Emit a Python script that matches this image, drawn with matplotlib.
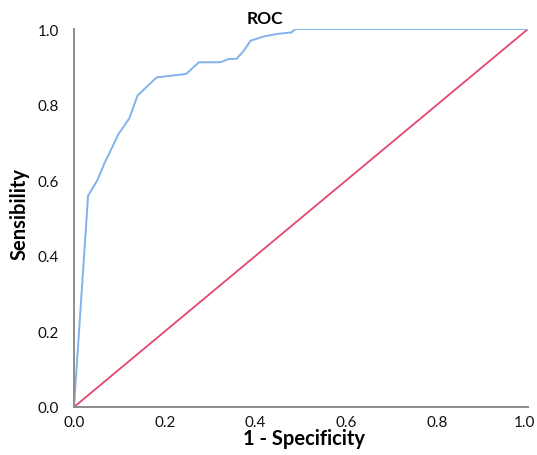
import matplotlib
matplotlib.use('Agg')
import matplotlib.pyplot as plt
import matplotlib.transforms as mtransforms

# ROC curve
fpr = [0.0, 0.031, 0.051, 0.068, 0.098, 0.122, 0.140, 0.182, 0.247, 0.275,
       0.322, 0.342, 0.358, 0.373, 0.389, 0.417, 0.448, 0.479, 0.487, 1.0]
tpr = [0.0, 0.559, 0.599, 0.647, 0.722, 0.764, 0.824, 0.872, 0.881, 0.912,
       0.912, 0.921, 0.921, 0.941, 0.969, 0.980, 0.987, 0.991, 1.0, 1.0]
ref_x = [0.0, 1.0]
ref_y = [0.0, 1.0]
ticks = [0.0, 0.2, 0.4, 0.6, 0.8, 1.0]

plt.rcParams['font.family'] = ['Lato', 'DejaVu Sans']

fig = plt.figure(figsize=(5.37, 4.56), dpi=100)
ax = fig.add_axes([74/537, 1-408/456, (528-74)/537, (408-30)/456])

ax.plot(ref_x, ref_y, color='#e8456a', lw=1.3)
ax.plot(fpr, tpr, color='#82b2ee', lw=1.4)

ax.set_xlim(0, 1)
ax.set_ylim(0, 1)
ax.set_xticks(ticks)
ax.set_yticks(ticks)
ax.set_xticklabels(['%.1f' % t for t in ticks])
ax.set_yticklabels(['%.1f' % t for t in ticks])
ax.tick_params(length=0, labelsize=11, colors='#111111')
ax.tick_params(axis='x', pad=6)
ax.tick_params(axis='y', pad=11)

# last x label sits at the figure edge, nudge it in a bit
last = ax.get_xticklabels()[-1]
last.set_transform(last.get_transform() + mtransforms.ScaledTranslation(-4/100, 0, fig.dpi_scale_trans))

for s in ['top', 'right']:
    ax.spines[s].set_visible(False)
for s in ['left', 'bottom']:
    ax.spines[s].set_color('#8c8c8c')
    ax.spines[s].set_linewidth(1.4)

fig.text(265/537, 1-19/456, 'ROC', ha='center', va='center', fontsize=12.5, fontweight='bold')
fig.text(304/537, 1-439/456, '1 - Specificity', ha='center', va='center', fontsize=14.5, fontweight='bold')
fig.text(20/537, 1-214/456, 'Sensibility', ha='center', va='center', rotation=90, fontsize=14.5, fontweight='bold')

fig.savefig('out.png', dpi=100)
